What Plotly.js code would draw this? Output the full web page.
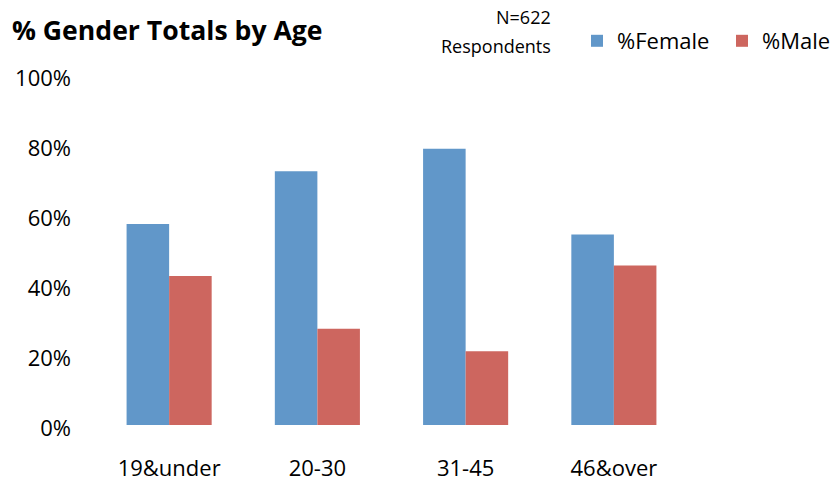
<!DOCTYPE html>
<html>
<head>
<meta charset="utf-8">
<script src="https://cdn.plot.ly/plotly-3.0.1.min.js"></script>
<style>
html,body{margin:0;padding:0;background:#fff;}
#chart{width:837px;height:482px;}
</style>
</head>
<body>
<div id="chart"></div>
<script>
const categories = ["19&under", "20-30", "31-45", "46&over"];
const femalePct = [57.4, 72.5, 78.9, 54.4];
const malePct = [42.6, 27.5, 21.1, 45.6];
const yTickVals = [0, 20, 40, 60, 80, 100];
const yTickText = ["0%", "20%", "40%", "60%", "80%", "100%"];

const FONT = "Open Sans, Noto Sans, sans-serif";
const PW = 593, PH = 350, ML = 95, MT = 75;
const px = v => (v - ML) / PW;
const py = v => 1 + (MT - v) / PH;

const traces = [
  {
    type: "bar", name: "%Female", x: categories, y: femalePct,
    marker: {color: "#6197C9", line: {width: 0}}, hoverinfo: "x+y"
  },
  {
    type: "bar", name: "%Male", x: categories, y: malePct,
    marker: {color: "#CD665F", line: {width: 0}}, hoverinfo: "x+y"
  }
];

const layout = {
  width: 837, height: 482,
  paper_bgcolor: "#fff", plot_bgcolor: "#fff",
  margin: {l: 95, r: 149, t: 75, b: 57, pad: 0, autoexpand: false},
  barmode: "group", bargap: 0.426, bargroupgap: 0,
  font: {family: FONT, size: 22, color: "#000"},
  showlegend: true,
  legend: {
    orientation: "h", x: px(577), xanchor: "left", y: py(41), yanchor: "middle",
    entrywidth: 100, entrywidthmode: "pixels",
    font: {family: FONT, size: 22, color: "#000"},
    bgcolor: "rgba(0,0,0,0)", itemclick: false, itemdoubleclick: false,
    traceorder: "normal"
  },
  xaxis: {
    type: "category", showgrid: false, zeroline: false, showline: false,
    ticks: "", ticklabelstandoff: 28,
    tickfont: {family: FONT, size: 22, color: "#000"}, fixedrange: true
  },
  yaxis: {
    range: [0, 100], tickvals: yTickVals, ticktext: yTickText,
    showgrid: false, zeroline: false, showline: false, ticks: "",
    ticklabelstandoff: 23, ticklabelshift: 3,
    tickfont: {family: FONT, size: 22, color: "#000"}, fixedrange: true
  },
  annotations: [
    {
      text: "<b>% Gender Totals by Age</b>", xref: "paper", yref: "paper",
      x: px(10), xanchor: "left", y: py(30), yanchor: "middle",
      showarrow: false, font: {family: FONT, size: 26.6, color: "#000"}
    },
    {
      text: "N=622", xref: "paper", yref: "paper",
      x: px(553), xanchor: "right", y: py(17), yanchor: "middle",
      showarrow: false, font: {family: FONT, size: 18, color: "#000"}
    },
    {
      text: "Respondents", xref: "paper", yref: "paper",
      x: px(553), xanchor: "right", y: py(46), yanchor: "middle",
      showarrow: false, font: {family: FONT, size: 18, color: "#000"}
    }
  ]
};

Plotly.newPlot("chart", traces, layout, {displayModeBar: false, staticPlot: true});
</script>
</body>
</html>
